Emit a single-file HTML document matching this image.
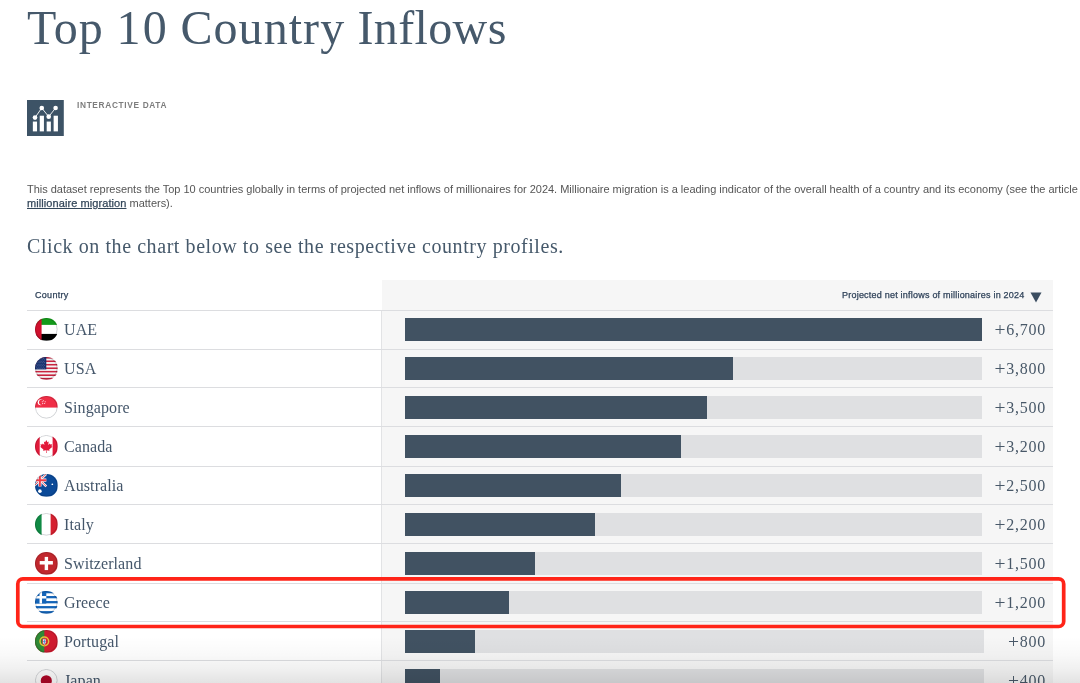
<!DOCTYPE html>
<html><head><meta charset="utf-8">
<style>
html,body{margin:0;padding:0;background:#fff;width:1080px;height:683px;overflow:hidden;position:relative}
body{font-family:"Liberation Sans",sans-serif;color:#3e4f5f}
.abs{position:absolute;white-space:nowrap}
.serif{font-family:"Liberation Serif",serif}
#title{top:1px;font-size:48px;color:#46596b;line-height:54px;letter-spacing:0.86px}
#icon{left:27px;top:100px;width:37px;height:37px;background:#3e5366}
#tag{left:77px;top:100px;font-size:8.3px;line-height:10px;font-weight:bold;color:#7d7d7d;letter-spacing:0.67px}
#desc{left:27px;top:183px;font-size:11px;line-height:13px;color:#555;letter-spacing:-0.014px}
#desc a{color:#34475a;-webkit-text-stroke:0.25px #34475a;text-decoration:underline;text-underline-offset:1px}
#click{left:27px;top:234.5px;font-size:20px;color:#46596b;letter-spacing:0.57px}
#rcol{left:382px;top:280px;width:671px;height:403px;background:#f6f6f6}
#vline{left:381px;top:310px;width:1px;height:373px;background:#e2e3e5}
.sep{position:absolute;left:27px;width:1026px;height:1px;background:#dcdde0}
.hdr{font-size:9px;line-height:11px;color:#30435a;-webkit-text-stroke:0.25px #30435a}
.row{position:absolute;left:0;width:1080px;height:39px}
.flag{position:absolute;left:35.3px;top:8.2px;width:22.6px;height:22.6px;border-radius:50%;overflow:hidden}
.flag svg{display:block;width:22.6px;height:22.6px}
.name{position:absolute;left:64px;top:9px;letter-spacing:0.1px;font-family:"Liberation Serif",serif;font-size:16px;color:#44566a;line-height:22px}
.track{position:absolute;left:405px;top:8px;width:577px;height:23px;background:#dfe0e2}
.fill{position:absolute;left:0;top:0;height:23px;background:#415262}
.val{position:absolute;right:34px;top:8.5px;letter-spacing:0.74px;font-family:"Liberation Serif",serif;font-size:16px;color:#485868;line-height:22px;text-align:right}
#hl{left:16px;top:577.5px;width:1049.5px;height:51px;box-sizing:border-box;border:3.6px solid #ff2418;border-radius:7px}
.plus{font-size:19.5px;line-height:0;margin-right:0.8px;position:relative;top:1.6px;letter-spacing:0}
#shade{left:0;top:636px;width:1080px;height:47px;background:linear-gradient(to bottom,rgba(0,0,0,0) 0%,rgba(0,0,0,0.025) 40%,rgba(0,0,0,0.06) 70%,rgba(0,0,0,0.11) 100%)}
</style></head><body>
<div class="abs serif" id="title" style="left:27px">Top</div><div class="abs serif" id="title" style="left:116.5px;letter-spacing:2.2px">10</div><div class="abs serif" id="title" style="left:180.5px;letter-spacing:1.05px">Country</div><div class="abs serif" id="title" style="left:357.5px;letter-spacing:0.36px">Inflows</div>
<svg class="abs" style="left:27.15px;top:99.5px" width="36.8" height="36.9" viewBox="0 0 36.8 36.9"><rect width="36.8" height="36.9" fill="#3d5366"/><g fill="#fff"><rect x="5.85" y="21.56" width="4.2" height="9.84"/><rect x="12.73" y="15.72" width="4.2" height="15.68"/><rect x="19.68" y="21.56" width="4.2" height="9.84"/><rect x="26.63" y="15.72" width="4.3" height="15.68"/><circle cx="8" cy="17.6" r="2.3"/><circle cx="14.76" cy="8.03" r="2.3"/><circle cx="21.71" cy="16.64" r="2.3"/><circle cx="28.6" cy="8.03" r="2.3"/></g><polyline points="8,17.6 14.76,8.03 21.71,16.64 28.6,8.03" fill="none" stroke="#fff" stroke-width="0.9"/></svg>
<div class="abs" id="tag">INTERACTIVE DATA</div>
<div class="abs" id="desc">This dataset represents the Top 10 countries globally in terms of projected net inflows of millionaires for 2024. Millionaire migration is a leading indicator of the overall health of a country and its economy (see the article<br><span style="position:relative;top:1px"><a style="letter-spacing:0.08px">millionaire migration</a> matters).</span></div>
<div class="abs serif" id="click">Click on the chart below to see the respective country profiles.</div>
<div class="abs" id="rcol"></div>
<div class="abs" id="vline"></div>
<div class="abs hdr" style="left:35px;top:290px;letter-spacing:0.3px">Country</div>
<div class="abs hdr" style="left:842px;top:290px;letter-spacing:0.22px">Projected net inflows of millionaires in 2024</div>
<svg class="abs" style="left:1030px;top:292px" width="12" height="11" viewBox="0 0 12 11"><path d="M0.5 0.5H11.5L6 10.5Z" fill="#3b4d60"/></svg>
<div id="rows"><div class="sep" style="top:310px"></div>
<div class="row" style="top:310px"><div class="flag"><svg viewBox="0 0 24 24"><rect width="24" height="24" fill="#fff"/><rect width="24" height="7.3" fill="#139a1a"/><rect y="16.9" width="24" height="7.1" fill="#000"/><rect width="7.0" height="24" fill="#d0102d"/><circle cx="12" cy="12" r="11.55" fill="none" stroke="#c9cbce" stroke-width="0.9" style="mix-blend-mode:multiply"/></svg></div><div class="name">UAE</div><div class="track" style="width:577px"><div class="fill" style="width:577px"></div></div><div class="val"><span class="plus">+</span>6,700</div></div>
<div class="sep" style="top:349px"></div>
<div class="row" style="top:349px"><div class="flag"><svg viewBox="0 0 24 24"><rect y="0.000" width="24" height="1.876" fill="#c9243f"/><rect y="1.846" width="24" height="1.876" fill="#f4f4f4"/><rect y="3.692" width="24" height="1.876" fill="#c9243f"/><rect y="5.538" width="24" height="1.876" fill="#f4f4f4"/><rect y="7.385" width="24" height="1.876" fill="#c9243f"/><rect y="9.231" width="24" height="1.876" fill="#f4f4f4"/><rect y="11.077" width="24" height="1.876" fill="#c9243f"/><rect y="12.923" width="24" height="1.876" fill="#f4f4f4"/><rect y="14.769" width="24" height="1.876" fill="#c9243f"/><rect y="16.615" width="24" height="1.876" fill="#f4f4f4"/><rect y="18.462" width="24" height="1.876" fill="#c9243f"/><rect y="20.308" width="24" height="1.876" fill="#f4f4f4"/><rect y="22.154" width="24" height="1.876" fill="#c9243f"/><rect width="12" height="13.2" fill="#17306e"/><circle cx="1.30" cy="1.60" r="0.45" fill="#7f8fb5"/><circle cx="3.30" cy="1.60" r="0.45" fill="#7f8fb5"/><circle cx="5.30" cy="1.60" r="0.45" fill="#7f8fb5"/><circle cx="7.30" cy="1.60" r="0.45" fill="#7f8fb5"/><circle cx="9.30" cy="1.60" r="0.45" fill="#7f8fb5"/><circle cx="2.30" cy="3.10" r="0.45" fill="#7f8fb5"/><circle cx="4.30" cy="3.10" r="0.45" fill="#7f8fb5"/><circle cx="6.30" cy="3.10" r="0.45" fill="#7f8fb5"/><circle cx="8.30" cy="3.10" r="0.45" fill="#7f8fb5"/><circle cx="10.30" cy="3.10" r="0.45" fill="#7f8fb5"/><circle cx="1.30" cy="4.60" r="0.45" fill="#7f8fb5"/><circle cx="3.30" cy="4.60" r="0.45" fill="#7f8fb5"/><circle cx="5.30" cy="4.60" r="0.45" fill="#7f8fb5"/><circle cx="7.30" cy="4.60" r="0.45" fill="#7f8fb5"/><circle cx="9.30" cy="4.60" r="0.45" fill="#7f8fb5"/><circle cx="2.30" cy="6.10" r="0.45" fill="#7f8fb5"/><circle cx="4.30" cy="6.10" r="0.45" fill="#7f8fb5"/><circle cx="6.30" cy="6.10" r="0.45" fill="#7f8fb5"/><circle cx="8.30" cy="6.10" r="0.45" fill="#7f8fb5"/><circle cx="10.30" cy="6.10" r="0.45" fill="#7f8fb5"/><circle cx="1.30" cy="7.60" r="0.45" fill="#7f8fb5"/><circle cx="3.30" cy="7.60" r="0.45" fill="#7f8fb5"/><circle cx="5.30" cy="7.60" r="0.45" fill="#7f8fb5"/><circle cx="7.30" cy="7.60" r="0.45" fill="#7f8fb5"/><circle cx="9.30" cy="7.60" r="0.45" fill="#7f8fb5"/><circle cx="2.30" cy="9.10" r="0.45" fill="#7f8fb5"/><circle cx="4.30" cy="9.10" r="0.45" fill="#7f8fb5"/><circle cx="6.30" cy="9.10" r="0.45" fill="#7f8fb5"/><circle cx="8.30" cy="9.10" r="0.45" fill="#7f8fb5"/><circle cx="10.30" cy="9.10" r="0.45" fill="#7f8fb5"/><circle cx="1.30" cy="10.60" r="0.45" fill="#7f8fb5"/><circle cx="3.30" cy="10.60" r="0.45" fill="#7f8fb5"/><circle cx="5.30" cy="10.60" r="0.45" fill="#7f8fb5"/><circle cx="7.30" cy="10.60" r="0.45" fill="#7f8fb5"/><circle cx="9.30" cy="10.60" r="0.45" fill="#7f8fb5"/><circle cx="2.30" cy="12.10" r="0.45" fill="#7f8fb5"/><circle cx="4.30" cy="12.10" r="0.45" fill="#7f8fb5"/><circle cx="6.30" cy="12.10" r="0.45" fill="#7f8fb5"/><circle cx="8.30" cy="12.10" r="0.45" fill="#7f8fb5"/><circle cx="10.30" cy="12.10" r="0.45" fill="#7f8fb5"/><circle cx="12" cy="12" r="11.55" fill="none" stroke="#c9cbce" stroke-width="0.9" style="mix-blend-mode:multiply"/></svg></div><div class="name">USA</div><div class="track" style="width:577px"><div class="fill" style="width:327.9px"></div></div><div class="val"><span class="plus">+</span>3,800</div></div>
<div class="sep" style="top:387.4px"></div>
<div class="row" style="top:388px"><div class="flag"><svg viewBox="0 0 24 24"><rect width="24" height="24" fill="#fff"/><rect width="24" height="12.3" fill="#f02d46"/><circle cx="6.0" cy="6.6" r="3.1" fill="#fff"/><circle cx="7.2" cy="6.6" r="2.9" fill="#f02d46"/><g fill="#fff"><circle cx="8.9" cy="5.0" r=".55"/><circle cx="10.8" cy="6.0" r=".55"/><circle cx="10.3" cy="8.0" r=".55"/><circle cx="8.2" cy="8.0" r=".55"/><circle cx="7.7" cy="6.1" r=".55"/></g><circle cx="12" cy="12" r="11.55" fill="none" stroke="#c9cbce" stroke-width="0.9" style="mix-blend-mode:multiply"/></svg></div><div class="name">Singapore</div><div class="track" style="width:577px"><div class="fill" style="width:302.0px"></div></div><div class="val"><span class="plus">+</span>3,500</div></div>
<div class="sep" style="top:426.4px"></div>
<div class="row" style="top:427px"><div class="flag"><svg viewBox="0 0 24 24"><rect width="24" height="24" fill="#fff"/><rect width="5.0" height="24" fill="#e21a3a"/><rect x="18.7" width="5.3" height="24" fill="#e21a3a"/><path d="M12 5.4l1.25 2.3 1.3-.7-.5 3.6 1.7-1.7.6 1.2 1.9-.4-.7 2.2 1 .5-3.5 2.9.4 1.3-3.2-.5.1 3.1h-.7l.1-3.1-3.2.5.4-1.3-3.5-2.9 1-.5-.7-2.2 1.9.4.6-1.2 1.7 1.7-.5-3.6 1.3.7z" fill="#e21a3a"/><circle cx="12" cy="12" r="11.55" fill="none" stroke="#c9cbce" stroke-width="0.9" style="mix-blend-mode:multiply"/></svg></div><div class="name">Canada</div><div class="track" style="width:577px"><div class="fill" style="width:276.2px"></div></div><div class="val"><span class="plus">+</span>3,200</div></div>
<div class="sep" style="top:466px"></div>
<div class="row" style="top:466px"><div class="flag"><svg viewBox="0 0 24 24"><rect width="24" height="24" fill="#0b4a98"/><path d="M-1.6 0L12 13.2M12 0L-1.6 13.2" stroke="#fff" stroke-width="2.4"/><path d="M-1.6 0L12 13.2M12 0L-1.6 13.2" stroke="#ee3e4a" stroke-width="0.9"/><path d="M5.2 0v13.2M-1.6 6.6h13.6" stroke="#fff" stroke-width="3.4"/><path d="M5.2 0v13.2M-1.6 6.6h13.6" stroke="#ee3e4a" stroke-width="2.0"/><g fill="#fff"><circle cx="5.2" cy="18.2" r="1.9"/><circle cx="18.4" cy="10.9" r="0.9"/></g><circle cx="12" cy="12" r="11.55" fill="none" stroke="#c9cbce" stroke-width="0.9" style="mix-blend-mode:multiply"/></svg></div><div class="name">Australia</div><div class="track" style="width:577px"><div class="fill" style="width:215.9px"></div></div><div class="val"><span class="plus">+</span>2,500</div></div>
<div class="sep" style="top:504px"></div>
<div class="row" style="top:505px"><div class="flag"><svg viewBox="0 0 24 24"><rect width="24" height="24" fill="#fff"/><rect width="7.0" height="24" fill="#108a44"/><rect x="16.6" width="7.4" height="24" fill="#d5202f"/><circle cx="12" cy="12" r="11.55" fill="none" stroke="#c9cbce" stroke-width="0.9" style="mix-blend-mode:multiply"/></svg></div><div class="name">Italy</div><div class="track" style="width:577px"><div class="fill" style="width:190.1px"></div></div><div class="val"><span class="plus">+</span>2,200</div></div>
<div class="sep" style="top:543px"></div>
<div class="row" style="top:544px"><div class="flag"><svg viewBox="0 0 24 24"><rect width="24" height="24" fill="#c1272d"/><rect x="10.3" y="5.2" width="3.6" height="14.0" fill="#fff"/><rect x="5.0" y="9.6" width="14.0" height="3.7" fill="#fff"/><circle cx="12" cy="12" r="11.55" fill="none" stroke="#c9cbce" stroke-width="0.9" style="mix-blend-mode:multiply"/></svg></div><div class="name">Switzerland</div><div class="track" style="width:577px"><div class="fill" style="width:129.8px"></div></div><div class="val"><span class="plus">+</span>1,500</div></div>
<div class="sep" style="top:583px"></div>
<div class="row" style="top:583px"><div class="flag"><svg viewBox="0 0 24 24"><rect y="0.000" width="24" height="2.697" fill="#1565b8"/><rect y="2.667" width="24" height="2.697" fill="#fff"/><rect y="5.333" width="24" height="2.697" fill="#1565b8"/><rect y="8.000" width="24" height="2.697" fill="#fff"/><rect y="10.667" width="24" height="2.697" fill="#1565b8"/><rect y="13.333" width="24" height="2.697" fill="#fff"/><rect y="16.000" width="24" height="2.697" fill="#1565b8"/><rect y="18.667" width="24" height="2.697" fill="#fff"/><rect y="21.333" width="24" height="2.697" fill="#1565b8"/><rect width="12" height="13.33" fill="#1565b8"/><rect x="4.8" width="2.67" height="13.33" fill="#fff"/><rect y="5.33" width="12" height="2.67" fill="#fff"/><circle cx="12" cy="12" r="11.55" fill="none" stroke="#c9cbce" stroke-width="0.9" style="mix-blend-mode:multiply"/></svg></div><div class="name">Greece</div><div class="track" style="width:577px"><div class="fill" style="width:103.9px"></div></div><div class="val"><span class="plus">+</span>1,200</div></div>
<div class="sep" style="top:621px"></div>
<div class="row" style="top:622px"><div class="flag"><svg viewBox="0 0 24 24"><rect width="24" height="24" fill="#d01a2e"/><rect width="9.9" height="24" fill="#2f8a35"/><circle cx="9.9" cy="12.0" r="4.6" fill="none" stroke="#e6c23a" stroke-width="1.6"/><path d="M8.0 9.4h3.8v3.6q0 2.4-1.9 2.9q-1.9-.5-1.9-2.9z" fill="#fff" stroke="#d01a2e" stroke-width=".8"/><path d="M9.9 10.2v4.4M8.7 12.2h2.4" stroke="#4a8ed6" stroke-width="1.1"/><circle cx="12" cy="12" r="11.55" fill="none" stroke="#c9cbce" stroke-width="0.9" style="mix-blend-mode:multiply"/></svg></div><div class="name">Portugal</div><div class="track" style="width:579px"><div class="fill" style="width:69.5px"></div></div><div class="val"><span class="plus">+</span>800</div></div>
<div class="sep" style="top:660px"></div>
<div class="row" style="top:661px"><div class="flag"><svg viewBox="0 0 24 24"><rect width="24" height="24" fill="#fff"/><circle cx="12" cy="12.5" r="5.9" fill="#b00626"/><circle cx="12" cy="12" r="11.55" fill="none" stroke="#c9cbce" stroke-width="0.9" style="mix-blend-mode:multiply"/></svg></div><div class="name">Japan</div><div class="track" style="width:579px"><div class="fill" style="width:35.0px"></div></div><div class="val"><span class="plus">+</span>400</div></div></div><!--/rows-->
<svg class="abs" style="left:0;top:0" width="1080" height="683"><rect x="17.8" y="578.9" width="1045.9" height="47.6" rx="5" ry="5" fill="none" stroke="#ff2418" stroke-width="3.7"/></svg>
<div class="abs" id="shade"></div>
</body></html>
